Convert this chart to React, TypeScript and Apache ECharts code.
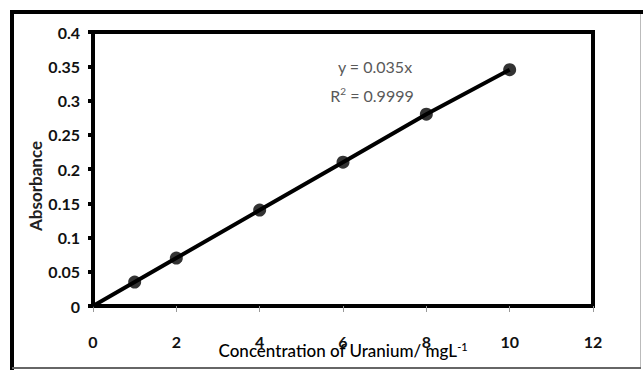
import React, { useEffect, useRef } from "react";
import * as echarts from "echarts";

const concentrations = [1, 2, 4, 6, 8, 10];
const absorbance = [0.035, 0.07, 0.14, 0.21, 0.28, 0.345];
const xTicks = [0, 2, 4, 6, 8, 10, 12];
const yTicks = [0, 0.05, 0.1, 0.15, 0.2, 0.25, 0.3, 0.35, 0.4];
const equationText = "y = 0.035x";
const r2Text = "0.9999";

const FONT = "Lato, 'Open Sans', sans-serif";

export default function App() {
  const ref = useRef<HTMLDivElement>(null);
  useEffect(() => {
    document.body.style.margin = "0";
    const chart = echarts.init(ref.current!, null, { renderer: "svg" });
    const lineData = [[0, 0], ...concentrations.map((c, i) => [c, absorbance[i]])];
    chart.setOption({
      animation: false,
      backgroundColor: "#ffffff",
      grid: {
        left: 93,
        right: 50,
        top: 32,
        bottom: 64,
        show: true,
        borderColor: "#000",
        borderWidth: 4,
        containLabel: false,
        outerBoundsMode: "none",
      },
      xAxis: {
        type: "value",
        min: xTicks[0],
        max: xTicks[xTicks.length - 1],
        interval: 2,
        axisLine: { show: true, lineStyle: { color: "#000", width: 4 } },
        axisTick: { show: true, length: 6, lineStyle: { color: "#999", width: 1 } },
        splitLine: { show: false },
        axisLabel: {
          margin: 27,
          color: "#111",
          fontFamily: FONT,
          fontWeight: "bold",
          fontSize: 16,
        },
        name: "Concentration of Uranium/ mgL{s|-1}",
        nameLocation: "middle",
        nameGap: 35,
        nameMoveOverlap: false,
        nameTextStyle: {
          fontFamily: FONT,
          fontSize: 17,
          fontWeight: 500,
          color: "#000",
          rich: {
            s: { fontFamily: FONT, fontSize: 11, color: "#000", verticalAlign: "top", padding: [0, 0, 8, 0] },
          },
        },
      },
      yAxis: {
        type: "value",
        min: 0,
        max: yTicks[yTicks.length - 1],
        interval: 0.05,
        axisLine: { show: true, lineStyle: { color: "#000", width: 4 } },
        axisTick: { show: true, length: 5, lineStyle: { color: "#000", width: 4 } },
        splitLine: { show: false },
        axisLabel: {
          margin: 13,
          color: "#111",
          fontFamily: FONT,
          fontWeight: "bold",
          fontSize: 16,
          formatter: (v: number) => String(Math.round(v * 100) / 100),
        },
      },
      series: [
        {
          type: "line",
          data: lineData,
          showSymbol: false,
          lineStyle: { color: "#000", width: 4 },
          z: 3,
        },
        {
          type: "scatter",
          data: concentrations.map((c, i) => [c, absorbance[i]]),
          symbol: "circle",
          symbolSize: 13,
          itemStyle: { color: "#000" },
          z: 4,
        },
      ],
      graphic: [
        { type: "line", shape: { x1: 10, y1: 12, x2: 643, y2: 12 }, style: { stroke: "#000", lineWidth: 4 } },
        { type: "line", shape: { x1: 12, y1: 10, x2: 12, y2: 370 }, style: { stroke: "#000", lineWidth: 4 } },
        { type: "line", shape: { x1: 640.5, y1: 14, x2: 640.5, y2: 368 }, style: { stroke: "#bbb", lineWidth: 1 } },
        { type: "line", shape: { x1: 12, y1: 368, x2: 641, y2: 368 }, style: { stroke: "#666", lineWidth: 2 } },
        {
          type: "text",
          x: 35,
          y: 186,
          rotation: Math.PI / 2,
          style: {
            text: "Absorbance",
            fontFamily: FONT,
            fontWeight: "bold",
            fontSize: 17,
            fill: "#222",
            textAlign: "center",
            textVerticalAlign: "middle",
          },
        },
        {
          type: "text",
          x: 375,
          y: 66,
          style: {
            text: equationText,
            fontFamily: FONT,
            fontSize: 16,
            fill: "#595959",
            textAlign: "center",
            textVerticalAlign: "middle",
          },
        },
        {
          type: "text",
          x: 372,
          y: 95,
          style: {
            text: "R{s|2} = " + r2Text,
            fontFamily: FONT,
            fontSize: 16,
            fill: "#595959",
            textAlign: "center",
            textVerticalAlign: "middle",
            rich: {
              s: { fontFamily: FONT, fontSize: 10, fill: "#595959", verticalAlign: "top", padding: [0, 0, 8, 0] },
            },
          },
        },
      ],
    });
    return () => chart.dispose();
  }, []);
  return <div ref={ref} style={{ width: 643, height: 370 }} />;
}
